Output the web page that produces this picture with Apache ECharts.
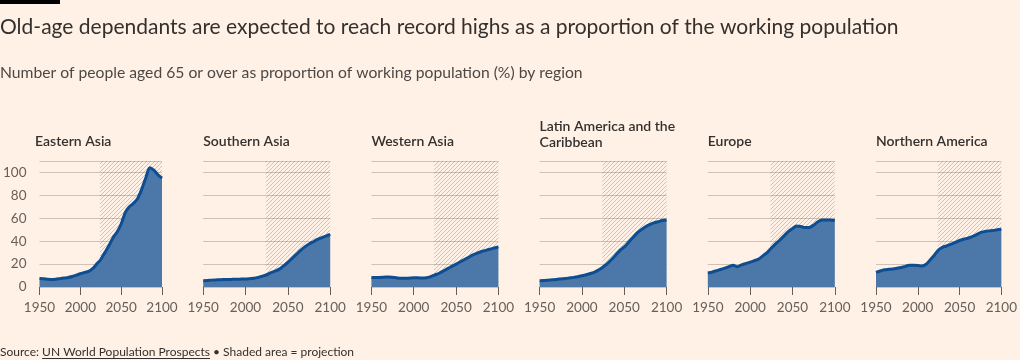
<!DOCTYPE html>
<html>
<head>
<meta charset="utf-8">
<script src="https://cdn.jsdelivr.net/npm/echarts@6/dist/echarts.min.js"></script>
<style>
html,body{margin:0;padding:0;background:#fff1e5;}
#chart{width:1020px;height:360px;}
</style>
</head>
<body>
<div id="chart"></div>
<script>
const years = [1950,1955,1960,1965,1970,1975,1980,1985,1990,1995,2000,2005,2010,2015,2020,2025,2030,2035,2040,2045,2050,2055,2060,2065,2070,2075,2080,2085,2090,2095,2100];
const regions = ["Eastern Asia","Southern Asia","Western Asia","Latin America and the\nCaribbean","Europe","Northern America"];
const easternAsia = [7.5,7.3,6.8,6.5,6.8,7.3,7.8,8.3,9.2,10.3,11.6,12.6,13.6,16,20,24,30,36,43,48,55,65,70,73,77,85,95,104,102,98,95];
const southernAsia = [5.5,5.7,6,6.2,6.4,6.5,6.6,6.7,6.8,6.9,7,7.3,7.6,8.4,9.5,10.7,12.5,13.8,15.6,18.5,21.5,25,28.5,32,35,37.5,39.5,41.5,43,44.5,46];
const westernAsia = [8.3,8.2,8.4,8.6,8.8,8.6,8,7.6,7.6,7.8,8,8,7.8,8,9,10.5,12,14,16,18,20,22,24,26,28,29.5,31,32,33,34,35];
const latinAmerica = [5.5,5.7,6,6.3,6.6,7,7.4,7.9,8.4,9,9.8,10.7,11.8,13,15,17.5,20.5,24,28,32,35,39,43,47,50,52.5,54.5,56,57,58,58.5];
const europe = [12.2,13,14.2,15.3,16.5,17.8,19,17.7,19.4,20.5,21.7,23,24.3,27.2,30,34,37.7,41,44.6,48.4,51,53.3,52.8,51.9,52,54,57,58.5,58.5,58.5,58];
const northernAmerica = [12.8,14,15,15.4,15.7,16.3,17,18,19,19,18.8,18.3,19.8,23.8,28,32.5,34.8,36,37.4,39,40.6,41.7,42.6,44,45.5,47.5,48.4,49,49.3,50,50.4];
const seriesValues = [easternAsia,southernAsia,westernAsia,latinAmerica,europe,northernAmerica];
const xTicks = [1950,2000,2050,2100];
const yTicks = [0,20,40,60,80,100];
const projectionStart = 2024;
const sourcePrefix = 'Source: ';
const sourceLink = 'UN World Population Prospects';
const sourceRest = ' \u2022 Shaded area = projection';

const FONT = 'Lato';
const chart = echarts.init(document.getElementById('chart'));

// hatch pattern
const pc = document.createElement('canvas');
pc.width = 4; pc.height = 4;
const g = pc.getContext('2d');
g.strokeStyle = 'rgba(110,100,92,0.32)';
g.lineWidth = 1;
g.beginPath();
g.moveTo(0,4); g.lineTo(4,0);
g.moveTo(-1,1); g.lineTo(1,-1);
g.moveTo(3,5); g.lineTo(5,3);
g.stroke();

// measure source text for underline
const mc = document.createElement('canvas').getContext('2d');
mc.font = '12px ' + FONT;
const ulStart = mc.measureText(sourcePrefix).width;
const ulEnd = ulStart + mc.measureText(sourceLink).width;

const grids = [], xAxes = [], yAxes = [], series = [], titles = [];
regions.forEach((name, i) => {
  const left = 35 + 168.2 * i;
  grids.push({left: left, top: 161, width: 127, height: 126});
  xAxes.push({
    type: 'value', gridIndex: i, min: 1950, max: 2100, interval: 50,
    axisLine: {show: false},
    axisTick: {show: true, length: 8, lineStyle: {color: '#66605c', width: 1}},
    axisLabel: {color: '#66605c', fontSize: 13.5, fontFamily: FONT, margin: 14, hideOverlap: false,
      formatter: v => (xTicks.indexOf(v) >= 0 ? String(v) : '')},
    splitLine: {show: false}
  });
  yAxes.push({
    type: 'value', gridIndex: i, min: 0, max: 110, interval: 20,
    axisLine: {show: false}, axisTick: {show: false},
    axisLabel: {show: i === 0, color: '#66605c', fontSize: 13.5, fontFamily: FONT, margin: 13,
      formatter: v => (yTicks.indexOf(v) >= 0 ? String(v) : '')},
    splitLine: {show: true, lineStyle: {color: '#cec1b6', width: 1}}
  });
  series.push({
    type: 'line', xAxisIndex: i, yAxisIndex: i, z: 2,
    data: years.map((y, k) => [y, seriesValues[i][k]]),
    showSymbol: false, smooth: 0.25,
    lineStyle: {color: '#0d4d92', width: 3},
    areaStyle: {color: '#4c77a9', opacity: 1},
    silent: true
  });
  series.push({
    type: 'line', xAxisIndex: i, yAxisIndex: i, z: 5, data: [], silent: true,
    markArea: {silent: true, itemStyle: {color: {image: pc, repeat: 'repeat'}},
      data: [[{coord: [projectionStart, 0]}, {coord: [2100, 110]}]]}
  });
  const twoLine = name.indexOf('\n') >= 0;
  titles.push({
    text: name, left: left, top: twoLine ? 118 : 133, padding: 0,
    textStyle: {fontSize: 14, fontWeight: 600, color: '#33302e', fontFamily: FONT, lineHeight: 16}
  });
});

titles.unshift(
  {text: 'Old-age dependants are expected to reach record highs as a proportion of the working population', left: 0, top: 17, padding: 0,
   textStyle: {fontSize: 21, fontWeight: 'normal', color: '#33302e', fontFamily: FONT}},
  {text: 'Number of people aged 65 or over as proportion of working population (%) by region', left: 0, top: 65, padding: 0,
   textStyle: {fontSize: 15.7, fontWeight: 'normal', color: '#4d4845', fontFamily: FONT}},
  {text: sourcePrefix + sourceLink + sourceRest, left: 0, top: 346, padding: 0,
   textStyle: {fontSize: 12, fontWeight: 'normal', color: '#33302e', fontFamily: FONT}}
);

chart.setOption({
  backgroundColor: '#fff1e5',
  animation: false,
  title: titles,
  grid: grids,
  xAxis: xAxes,
  yAxis: yAxes,
  series: series,
  graphic: [
    {type: 'rect', shape: {x: 0, y: 0, width: 60, height: 4}, style: {fill: '#000'}},
    {type: 'line', shape: {x1: ulStart, y1: 358.5, x2: ulEnd, y2: 358.5}, style: {stroke: '#33302e', lineWidth: 1}}
  ]
});
</script>
</body>
</html>
